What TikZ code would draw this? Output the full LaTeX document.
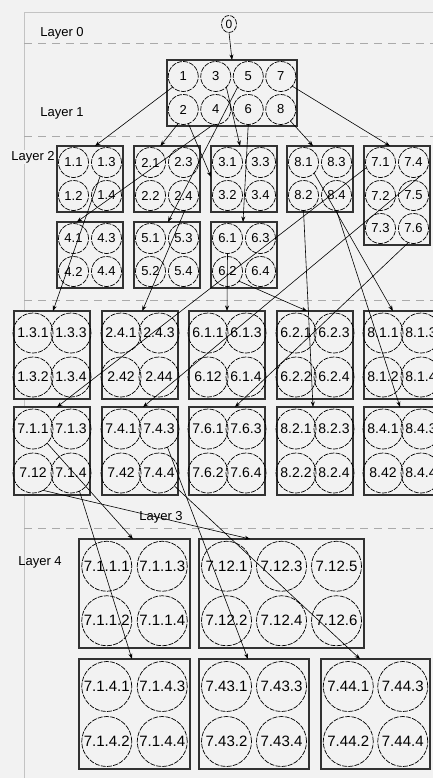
\documentclass[tikz,border=0pt]{standalone}
\usepackage{fontspec}
\setmainfont{Liberation Sans}
\usetikzlibrary{arrows.meta,calc,shapes.geometric}
\definecolor{bg}{RGB}{242,242,242}
\definecolor{boxc}{RGB}{50,50,50}
\definecolor{framec}{RGB}{195,195,195}
\definecolor{sepc}{RGB}{170,170,170}
\newcommand\tp[2]{($(#1.north west)!#2!(#1.north east)$)}
\begin{document}
\begin{tikzpicture}[x=1pt,y=-1pt,
  boxst/.style={draw=boxc,line width=1.2pt,fill=bg,rectangle,inner sep=0pt,outer sep=0pt,anchor=north west},
  circst/.style={draw=black,line width=0.7pt,circle,inner sep=0pt,outer sep=0pt,dash pattern=on 5pt off 1.2pt},
  lab/.style={font=\fontsize{13}{13}\selectfont,inner sep=1pt},
  conn/.style={draw=black,line width=0.6pt,-{Stealth[length=5.5pt,width=4pt]}},
  sepst/.style={draw=sepc,line width=0.8pt,dash pattern=on 8pt off 6pt},
  framest/.style={draw=framec,line width=0.8pt}]
\useasboundingbox (0,0) rectangle (433,778);
\fill[bg] (0,0) rectangle (433,778);
% frame and layer separators
\draw[framest] (24,778) -- (24,12) -- (433,12);
\draw[sepst] (24,43) -- (433,43);
\draw[sepst] (24,136) -- (433,136);
\draw[sepst] (24,300) -- (433,300);
\draw[sepst] (24,528) -- (433,528);
% layer labels
\node[lab] (lay0) at (62,33) {Layer 0};
\node[lab] (lay1) at (62,113) {Layer 1};
\node[lab,fill=bg] (lay2) at (33,157) {Layer 2};
\node[lab] (lay3) at (161,517) {Layer 3};
\node[lab] (lay4) at (40,562) {Layer 4};
% layer 0
\node[circst,ellipse,minimum width=15pt,minimum height=17pt,font=\fontsize{12}{12}\selectfont] (n0) at (229,24) {0};
% layer 1
\node[boxst,minimum width=130pt,minimum height=66pt] (L1) at (167,60) {};
\foreach \c/\r/\n/\t in {0/0/a1/1,0/1/a2/2,1/0/a3/3,1/1/a4/4,2/0/a5/5,2/1/a6/6,3/0/a7/7,3/1/a8/8}
  \node[circst,minimum size=30pt,font=\fontsize{13}{13}\selectfont] (\n) at ({167+32.5*(\c+0.5)},{60+33*(\r+0.5)}) {\t};
% layer 2 boxes
\foreach \bn/\bx/\by/\p in {B1/57/146/1,B2/134/146/2,B3/211/146/3,B8/287/146/8,B4/57/222/4,B5/134/222/5,B6/211/222/6}{
  \node[boxst,minimum width=66pt,minimum height=66pt] (\bn) at (\bx,\by) {};
  \foreach \c/\r/\k in {0/0/1,0/1/2,1/0/3,1/1/4}
    \node[circst,minimum size=30pt,font=\fontsize{13}{13}\selectfont] (b\p\k) at ({\bx+33*(\c+0.5)},{\by+33*(\r+0.5)}) {\p.\k};
}
\node[boxst,minimum width=66pt,minimum height=99pt] (B7) at (364,146) {};
\foreach \c/\r/\k in {0/0/1,0/1/2,0/2/3,1/0/4,1/1/5,1/2/6}
  \node[circst,minimum size=30pt,font=\fontsize{13}{13}\selectfont] (b7\k) at ({364+33*(\c+0.5)},{146+33*(\r+0.5)}) {7.\k};
% layer 3 boxes
\newcommand\tbox[7]{%
  \node[boxst,minimum width=76pt,minimum height=88pt] (#1) at (#2,#3) {};
  \node[circst,minimum size=40pt,font=\fontsize{14}{14}\selectfont] (#1a) at ({#2+19},{#3+22}) {#4};
  \node[circst,minimum size=40pt,font=\fontsize{14}{14}\selectfont] (#1b) at ({#2+19},{#3+66}) {#5};
  \node[circst,minimum size=40pt,font=\fontsize{14}{14}\selectfont] (#1c) at ({#2+57},{#3+22}) {#6};
  \node[circst,minimum size=40pt,font=\fontsize{14}{14}\selectfont] (#1d) at ({#2+57},{#3+66}) {#7};
}
\tbox{T13}{14}{311}{1.3.1}{1.3.2}{1.3.3}{1.3.4}
\tbox{T24}{102}{311}{2.4.1}{2.42}{2.4.3}{2.44}
\tbox{T61}{189}{311}{6.1.1}{6.12}{6.1.3}{6.1.4}
\tbox{T62}{277}{311}{6.2.1}{6.2.2}{6.2.3}{6.2.4}
\tbox{T81}{364}{311}{8.1.1}{8.1.2}{8.1.3}{8.1.4}
\tbox{T71}{14}{407}{7.1.1}{7.12}{7.1.3}{7.1.4}
\tbox{T74}{102}{407}{7.4.1}{7.42}{7.4.3}{7.4.4}
\tbox{T76}{189}{407}{7.6.1}{7.6.2}{7.6.3}{7.6.4}
\tbox{T82}{277}{407}{8.2.1}{8.2.2}{8.2.3}{8.2.4}
\tbox{T84}{364}{407}{8.4.1}{8.42}{8.4.3}{8.4.4}
% layer 4 boxes
\tikzset{c4/.style={circst,minimum size=50pt,font=\fontsize{15}{15}\selectfont}}
\node[boxst,minimum width=111pt,minimum height=109pt] (U711) at (79,539) {};
\foreach \c/\r/\k in {0/0/1,0/1/2,1/0/3,1/1/4}
  \node[c4] (u711\k) at ({79+55.5*(\c+0.5)},{539+54.5*(\r+0.5)}) {7.1.1.\k};
\node[boxst,minimum width=165pt,minimum height=109pt] (U712) at (199,539) {};
\foreach \c/\r/\k in {0/0/1,0/1/2,1/0/3,1/1/4,2/0/5,2/1/6}
  \node[c4] (u712\k) at ({199+55*(\c+0.5)},{539+54.5*(\r+0.5)}) {7.12.\k};
\node[boxst,minimum width=111pt,minimum height=110pt] (U714) at (79,659) {};
\foreach \c/\r/\k in {0/0/1,0/1/2,1/0/3,1/1/4}
  \node[c4] (u714\k) at ({79+55.5*(\c+0.5)},{659+55*(\r+0.5)}) {7.1.4.\k};
\node[boxst,minimum width=110pt,minimum height=110pt] (U743) at (199,659) {};
\foreach \c/\r/\k in {0/0/1,0/1/2,1/0/3,1/1/4}
  \node[c4] (u743\k) at ({199+55*(\c+0.5)},{659+55*(\r+0.5)}) {7.43.\k};
\node[boxst,minimum width=109pt,minimum height=110pt] (U744) at (321,659) {};
\foreach \c/\r/\k in {0/0/1,0/1/2,1/0/3,1/1/4}
  \node[c4] (u744\k) at ({321+54.5*(\c+0.5)},{659+55*(\r+0.5)}) {7.44.\k};
% connectors layer 0 -> 1
\draw[conn] (n0.south) -- (L1.north);
% layer 1 -> 2
\draw[conn] (a1.225) -- \tp{B1}{0.576};
\draw[conn] (a2.250) -- \tp{B2}{0.40};
\draw[conn] (a2.-70) -- ($(B3.north west)!0.47!(B3.south west)$);
\draw[conn] (a3.-45) -- \tp{B3}{0.44};
\draw[conn] (a4.262) -- \tp{B4}{0.30};
\draw[conn] (a5.225) -- \tp{B5}{0.515};
\draw[conn] (a6.south) -- \tp{B6}{0.485};
\draw[conn] (a7.-40) -- \tp{B7}{0.394};
\draw[conn] (a8.-50) -- \tp{B8}{0.394};
% layer 2 -> 3
\draw[conn] (b13.245) -- \tp{T13}{0.513};
\draw[conn] (b24.275) -- \tp{T24}{0.53};
\draw[conn] (b61.south) -- \tp{T61}{0.5};
\draw[conn] (b62.-40) -- \tp{T62}{0.395};
\draw[conn] (b81.-45) -- \tp{T81}{0.38};
\draw[conn] (b82.south) -- \tp{T82}{0.474};
\draw[conn] (b84.south) -- \tp{T84}{0.474};
\draw[conn] (b71.200) -- \tp{T71}{0.566};
\draw[conn] (b74.-60) -- \tp{T74}{0.54};
\draw[conn] (b76.250) -- \tp{T76}{0.605};
% layer 3 -> 4
\draw[conn] (T71a.-45) -- \tp{U711}{0.486};
\draw[conn] (T71b.-60) -- \tp{U712}{0.31};
\draw[conn] (T71d.-65) -- \tp{U714}{0.477};
\draw[conn] (T74c.-65) -- \tp{U743}{0.445};
\draw[conn] (T74d.-40) -- \tp{U744}{0.358};
\end{tikzpicture}
\end{document}
